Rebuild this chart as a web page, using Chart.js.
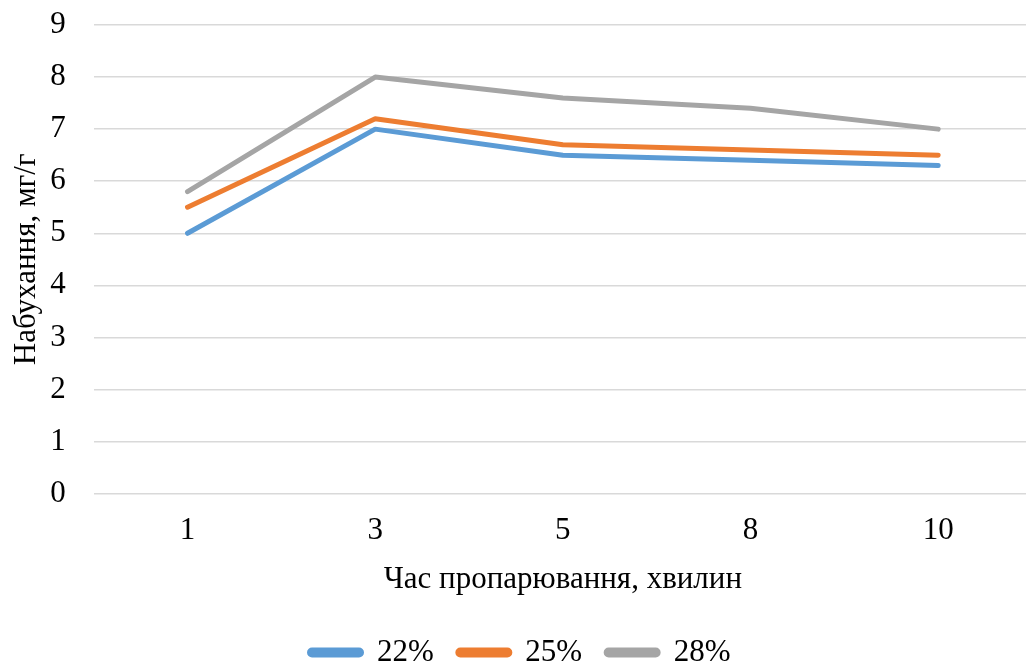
<!DOCTYPE html>
<html lang="uk">
<head>
  <meta charset="UTF-8">
  <title>Набухання</title>
  <script src="https://cdn.jsdelivr.net/npm/chart.js"></script>
  <style>
    * { margin: 0; padding: 0; box-sizing: border-box; }
    body { background: #fff; width: 1026px; height: 666px; overflow: hidden; }
    .wrap { width: 1040px; height: 666px; }
  </style>
</head>
<body>
  <div class="wrap"><canvas id="chart"></canvas></div>

  <script>
    // Data
    const minutes = ['1', '3', '5', '8', '10'];
    const s22 = [5.0, 7.0, 6.5, 6.4, 6.3];
    const s25 = [5.5, 7.2, 6.7, 6.6, 6.5];
    const s28 = [5.8, 8.0, 7.6, 7.4, 7.0];
    const seriesNames = ['22%', '25%', '28%'];
    const colors = ['#5B9BD5', '#ED7D31', '#A5A5A5'];

    const font = 'Liberation Serif, "Times New Roman", serif';
    Chart.defaults.font.family = font;
    Chart.defaults.color = '#000';

    const ctx = document.getElementById('chart').getContext('2d');
    new Chart(ctx, {
      type: 'line',
      data: {
        labels: minutes,
        datasets: [s22, s25, s28].map((vals, i) => ({
          label: seriesNames[i],
          data: vals,
          borderColor: colors[i],
          backgroundColor: colors[i],
          borderWidth: 5,
          borderCapStyle: 'round',
          borderJoinStyle: 'round',
          pointRadius: 0,
          tension: 0
        }))
      },
      options: {
        responsive: true,
        maintainAspectRatio: false,
        animation: false,
        layout: { padding: { top: 0, right: 8, bottom: -12, left: 8 } },
        plugins: {
          tooltip: { enabled: false },
          legend: {
            position: 'bottom',
            labels: {
              boxWidth: 52,
              boxHeight: 5,
              useBorderRadius: true,
              borderRadius: 2.5,
              padding: 24,
              font: { size: 31 },
              color: '#000'
            }
          }
        },
        scales: {
          x: {
            offset: true,
            grid: { display: false },
            border: { display: false },
            ticks: { font: { size: 31 }, padding: 11 },
            title: {
              display: true,
              text: 'Час пропарювання, хвилин',
              font: { size: 31 },
              padding: { top: 0, bottom: 15 }
            }
          },
          y: {
            min: 0,
            max: 9,
            ticks: { stepSize: 1, font: { size: 31 }, padding: 28 },
            grid: { color: '#D9D9D9', lineWidth: 1.5, drawTicks: false },
            border: { display: false },
            title: {
              display: true,
              text: 'Набухання, мг/г',
              font: { size: 31 },
              padding: { top: 0, bottom: -23 }
            },
            // tick padding also pads the top; keep only room for the "9"
            afterFit: (scale) => {
              scale.paddingTop = 25;
              scale.paddingBottom = 19;
            }
          }
        }
      }
    });
  </script>
</body>
</html>
